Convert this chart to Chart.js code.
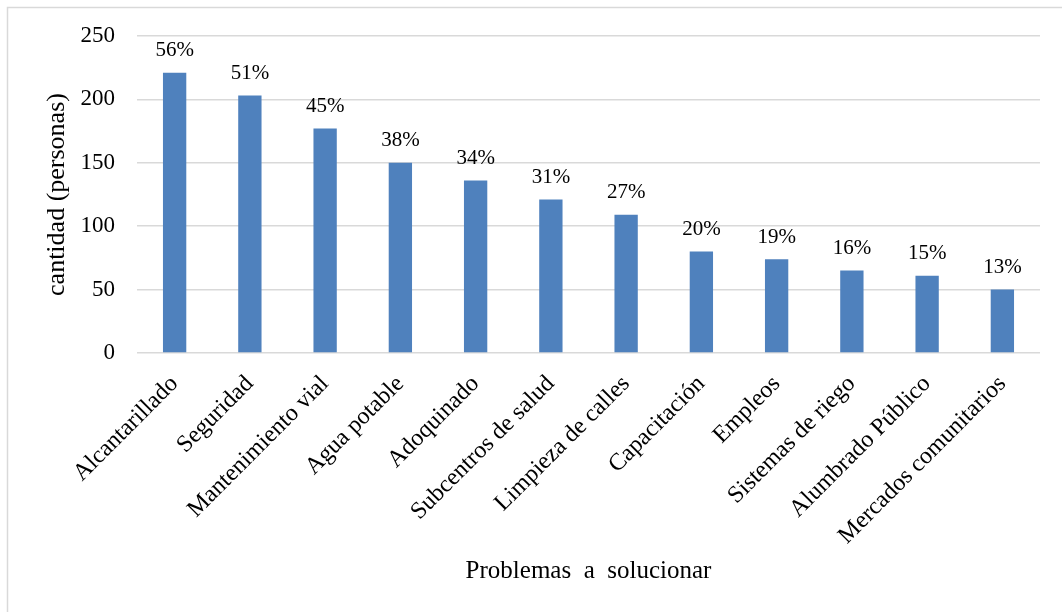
<!DOCTYPE html>
<html>
<head>
<meta charset="utf-8">
<script src="https://cdn.jsdelivr.net/npm/chart.js@4/dist/chart.umd.min.js"></script>
<style>
html,body{margin:0;padding:0;background:#fff;}
#wrap{position:absolute;left:0;top:0;width:1062px;height:612px;}
</style>
</head>
<body>
<div id="wrap"><canvas id="c" width="1062" height="612"></canvas></div>
<script>
const categories = ['Alcantarillado','Seguridad','Mantenimiento vial','Agua potable','Adoquinado','Subcentros de salud','Limpieza de calles','Capacitación','Empleos','Sistemas de riego','Alumbrado Público','Mercados comunitarios'];
const counts = [221,203,177,150,136,121,109,80,74,65,61,50];
const pctLabels = ['56%','51%','45%','38%','34%','31%','27%','20%','19%','16%','15%','13%'];
const yMin = 0, yMax = 250, yStep = 50;
const yTitle = 'cantidad (personas)';
const xTitle = 'Problemas  a  solucionar';

const FONT = "'Liberation Serif', 'Times New Roman', serif";

const frame = {
  id: 'frame',
  beforeDraw(chart) {
    const ctx = chart.ctx;
    ctx.save();
    ctx.fillStyle = '#fff';
    ctx.fillRect(0, 0, chart.width, chart.height);
    ctx.strokeStyle = '#d9d9d9';
    ctx.lineWidth = 1.5;
    ctx.beginPath();
    ctx.moveTo(7.5, chart.height);
    ctx.lineTo(7.5, 7.5);
    ctx.lineTo(chart.width, 7.5);
    ctx.stroke();
    ctx.restore();
  }
};

const barLabels = {
  id: 'barLabels',
  afterDatasetsDraw(chart) {
    const ctx = chart.ctx;
    const meta = chart.getDatasetMeta(0);
    ctx.save();
    ctx.font = '21px ' + FONT;
    ctx.fillStyle = '#000';
    ctx.textAlign = 'center';
    ctx.textBaseline = 'middle';
    meta.data.forEach((bar, i) => {
      ctx.fillText(pctLabels[i], bar.x, bar.y - 22);
    });
    ctx.restore();
  }
};

new Chart(document.getElementById('c'), {
  type: 'bar',
  data: {
    labels: categories,
    datasets: [{
      data: counts,
      backgroundColor: '#4f81bd',
      borderWidth: 0,
      barPercentage: 0.31,
      categoryPercentage: 1
    }]
  },
  options: {
    responsive: false,
    animation: false,
    devicePixelRatio: 1,
    layout: { padding: { top: 36, right: 22, left: 0, bottom: 0 } },
    plugins: { legend: { display: false }, tooltip: { enabled: false } },
    scales: {
      y: {
        min: yMin, max: yMax,
        afterFit(s) { s.width = 137; },
        ticks: { stepSize: yStep, color: '#000', font: { family: FONT, size: 23 }, padding: 22 },
        grid: { color: '#d9d9d9', lineWidth: 1.5, drawTicks: false },
        border: { display: false },
        title: { display: true, text: yTitle, color: '#000', font: { family: FONT, size: 26 }, padding: { top: 42, bottom: 0 } }
      },
      x: {
        afterFit(s) { s.height = 259; },
        ticks: { color: '#000', font: { family: FONT, size: 24 }, maxRotation: 45, minRotation: 45, autoSkip: false, padding: 17 },
        grid: { display: false, drawTicks: false },
        border: { display: false },
        title: { display: true, text: xTitle, color: '#000', font: { family: FONT, size: 25 }, padding: { top: 0, bottom: 26 } }
      }
    }
  },
  plugins: [frame, barLabels]
});
</script>
</body>
</html>
